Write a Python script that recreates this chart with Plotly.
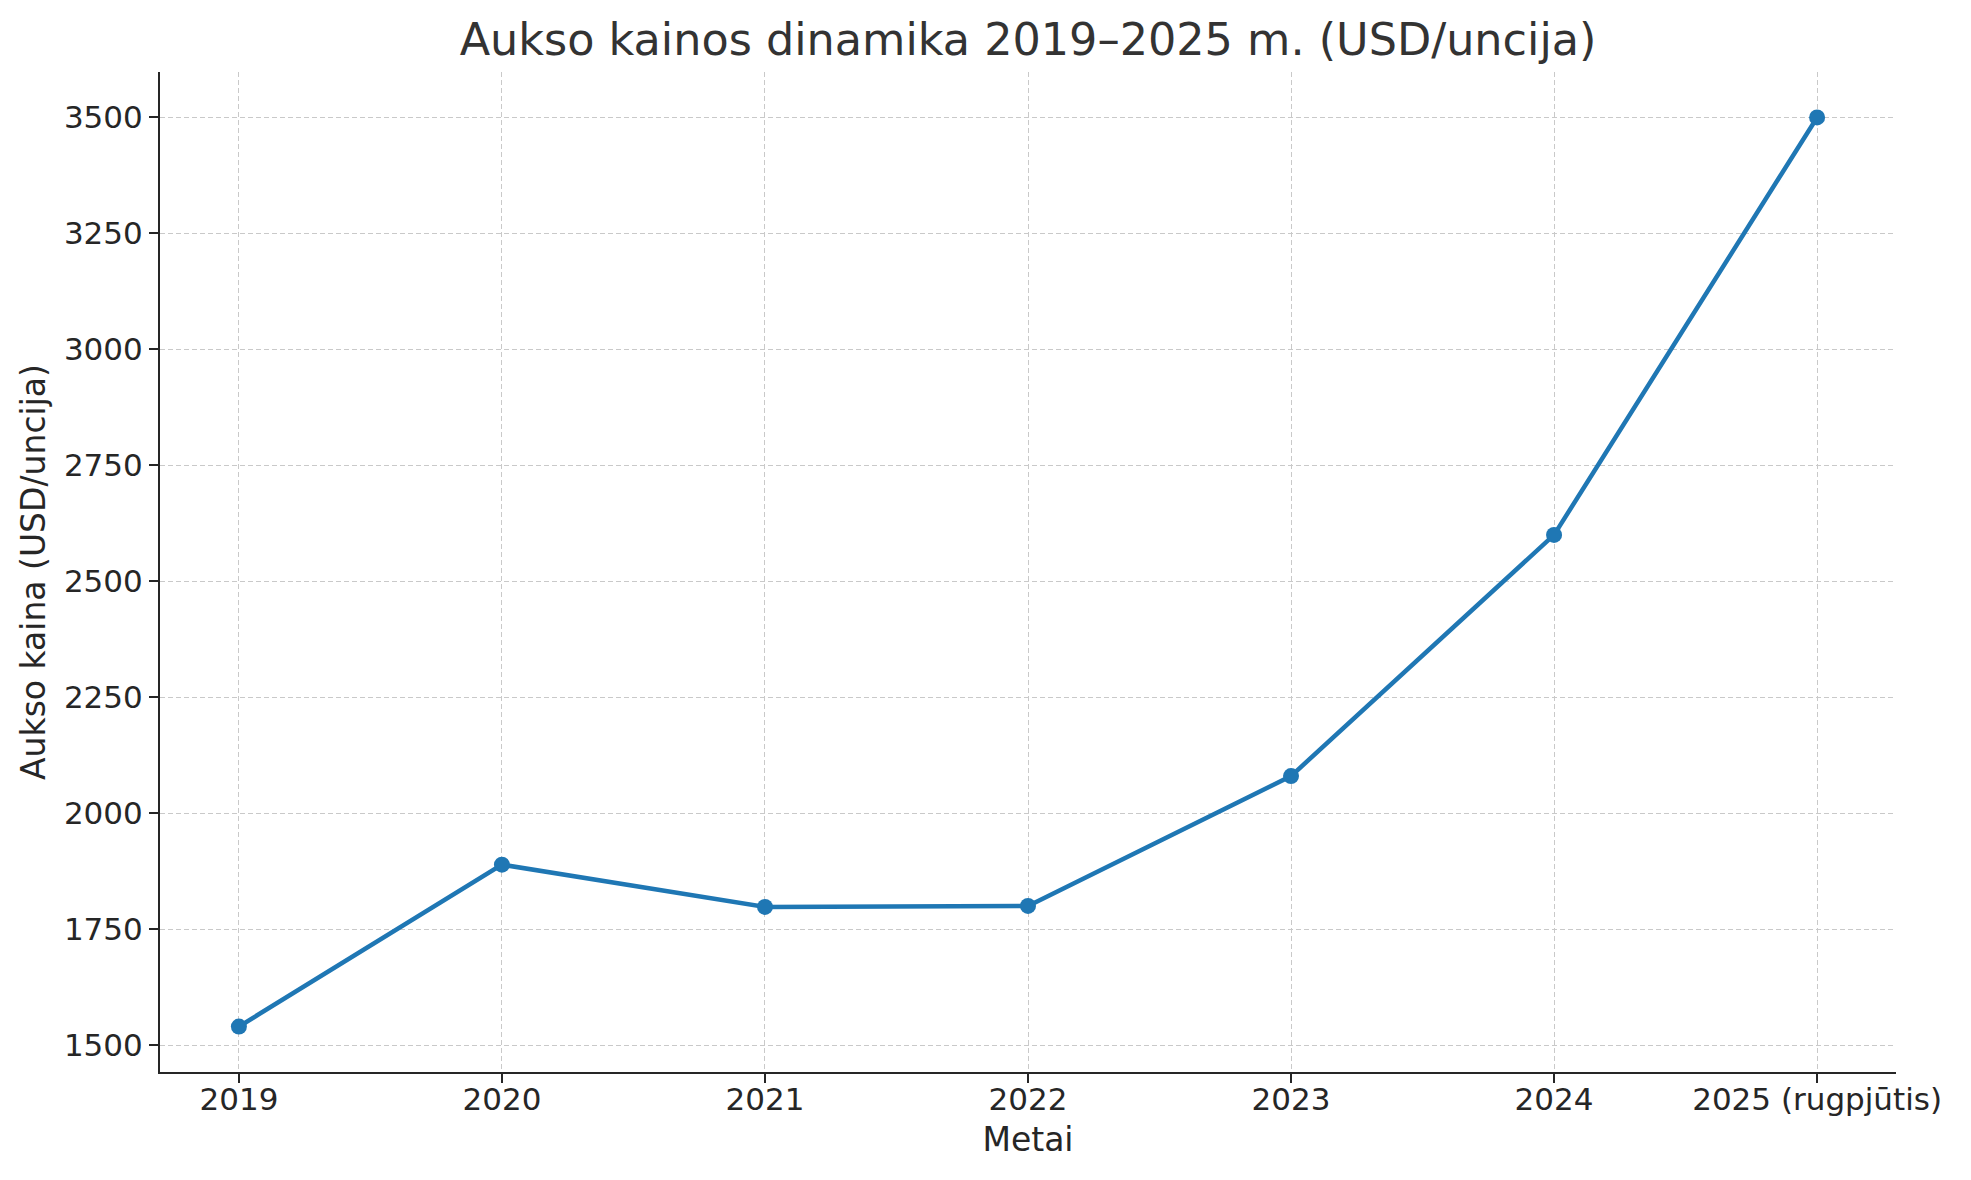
import plotly.graph_objects as go

years = ["2019", "2020", "2021", "2022", "2023", "2024", "2025 (rugpjūtis)"]
prices = [1540, 1889, 1798, 1800, 2080, 2600, 3500]
y_ticks = [1500, 1750, 2000, 2250, 2500, 2750, 3000, 3250, 3500]

W, H = 1971, 1180
# page has an 8px body margin; compensate
L, R, T, B = 152, 83, 64, 116
FONT = "DejaVu Sans"
TXT = "#262626"
GRID = "#c9c9c9"

fig = go.Figure()
fig.add_trace(go.Scatter(
    x=years, y=prices, mode="lines+markers",
    line=dict(color="#1f77b4", width=4.5),
    marker=dict(color="#1f77b4", size=16),
    showlegend=False,
))

fig.update_layout(
    width=W, height=H,
    margin=dict(l=L, r=R, t=T, b=B, pad=0),
    paper_bgcolor="white", plot_bgcolor="white",
    font=dict(family=FONT, color=TXT, size=31),
    title=dict(text="Aukso kainos dinamika 2019–2025 m. (USD/uncija)",
               x=0.5, xref="paper", xanchor="center",
               y=1 - 31 / H, yref="container", yanchor="middle",
               font=dict(size=44.5, color="#333333", family=FONT)),
    xaxis=dict(
        type="category", range=[-0.3, 6.3],
        showline=True, linecolor="#262626", linewidth=2,
        ticks="outside", ticklen=9, tickwidth=2, tickcolor="#262626",
        showgrid=True, gridcolor=GRID, gridwidth=1.3, griddash="5px,3px",
        tickfont=dict(size=31, color=TXT), ticklabelstandoff=-10,
        title=dict(text="Metai", font=dict(size=33, color=TXT), standoff=12),
        zeroline=False, mirror=False,
    ),
    yaxis=dict(
        range=[1442, 3598],
        tickvals=y_ticks, ticktext=[str(v) for v in y_ticks],
        showline=True, linecolor="#262626", linewidth=2,
        ticks="outside", ticklen=9, tickwidth=2, tickcolor="#262626",
        showgrid=True, gridcolor=GRID, gridwidth=1.3, griddash="5px,3px",
        tickfont=dict(size=31, color=TXT),
        title=dict(text="Aukso kaina (USD/uncija)", font=dict(size=33, color=TXT), standoff=8),
        zeroline=False, mirror=False,
    ),
)

fig.write_html("out.html")
